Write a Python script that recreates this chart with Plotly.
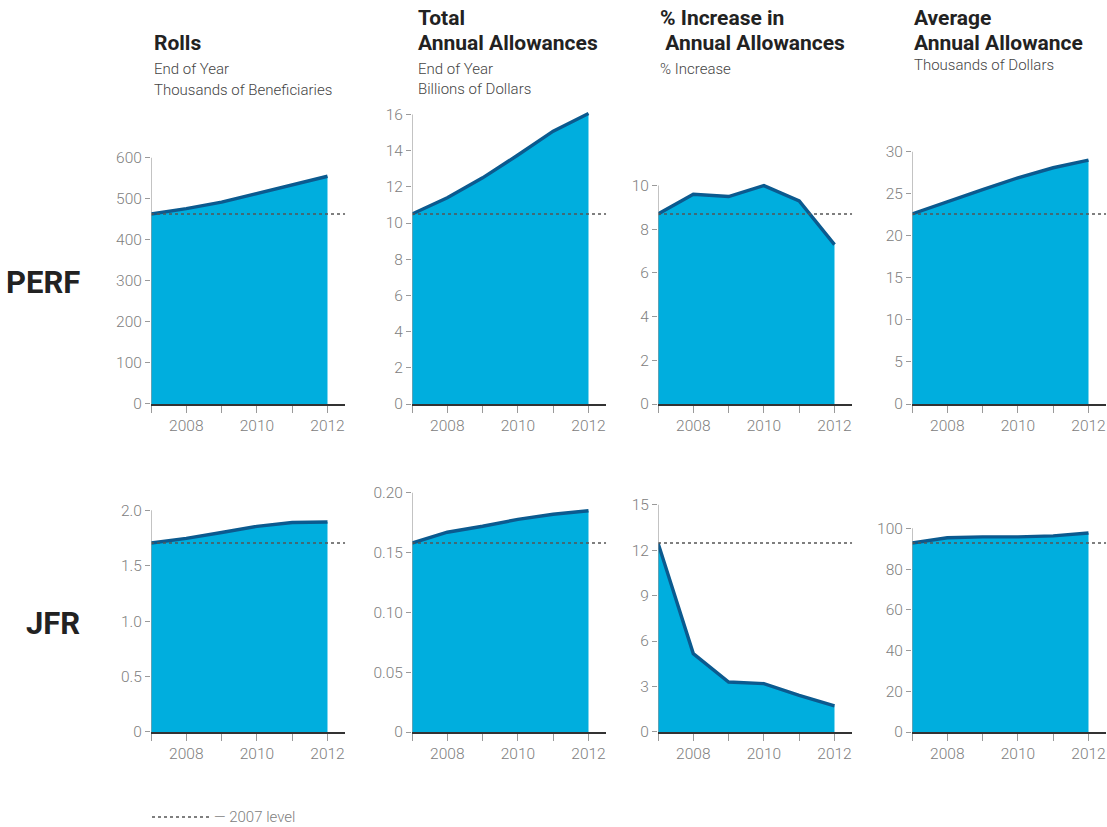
import plotly.graph_objects as go

# ---------------- data ----------------
years = [2007, 2008, 2009, 2010, 2011, 2012]

perf_rolls = [463, 476, 492, 513, 536, 555]
perf_total = [10.5, 11.4, 12.5, 13.76, 15.08, 16.05]
perf_pct = [8.7, 9.6, 9.5, 10.0, 9.3, 7.3]
perf_avg = [22.6, 24.1, 25.5, 26.9, 28.1, 29.0]

jfr_rolls = [1.705, 1.747, 1.80, 1.855, 1.89, 1.894]
jfr_total = [0.158, 0.167, 0.172, 0.1777, 0.182, 0.185]
jfr_pct = [12.47, 5.17, 3.3, 3.19, 2.42, 1.73]
jfr_avg = [92.8, 95.4, 95.8, 95.8, 96.3, 97.7]

row_labels = ["PERF", "JFR"]
col_titles = [["Rolls"], ["Total", "Annual Allowances"], ["% Increase in", " Annual Allowances"], ["Average", "Annual Allowance"]]
col_subtitles = [["End of Year", "Thousands of Beneficiaries"], ["End of Year", "Billions of Dollars"], ["% Increase"], ["Thousands of Dollars"]]

yticks = [
    [[0, 100, 200, 300, 400, 500, 600], ["0", "100", "200", "300", "400", "500", "600"]],
    [[0, 2, 4, 6, 8, 10, 12, 14, 16], ["0", "2", "4", "6", "8", "10", "12", "14", "16"]],
    [[0, 2, 4, 6, 8, 10], ["0", "2", "4", "6", "8", "10"]],
    [[0, 5, 10, 15, 20, 25, 30], ["0", "5", "10", "15", "20", "25", "30"]],
    [[0, 0.5, 1.0, 1.5, 2.0], ["0", "0.5", "1.0", "1.5", "2.0"]],
    [[0, 0.05, 0.10, 0.15, 0.20], ["0", "0.05", "0.10", "0.15", "0.20"]],
    [[0, 3, 6, 9, 12, 15], ["0", "3", "6", "9", "12", "15"]],
    [[0, 20, 40, 60, 80, 100], ["0", "20", "40", "60", "80", "100"]],
]
xtick_text = ["", "2008", "", "2010", "", "2012"]
legend_text = "— 2007 level"

series = [perf_rolls, perf_total, perf_pct, perf_avg, jfr_rolls, jfr_total, jfr_pct, jfr_avg]

# ---------------- layout geometry (pixels) ----------------
W, H = 1107, 827
col_x0 = [151, 412, 658, 912]
px_per_year = 35.3
x_end = 2012.5
row_zero = [404, 732]
row_offset = [190, 189]   # pixel height of the 2007 level above zero

FILL = "#00aede"
LINE = "#0b5a8f"
DOT = "#555555"
AXIS_GRAY = "#9a9a9a"
TICK_COL = "#808080"
FONT = "Roboto, 'Noto Sans', sans-serif"


def px_x(p):
    return p / W


def px_y(p):
    return 1 - p / H


fig = go.Figure()
layout = dict(
    width=W, height=H, autosize=False,
    margin=dict(l=0, r=0, t=0, b=0, pad=0, autoexpand=False),
    paper_bgcolor="white", plot_bgcolor="white",
    showlegend=False,
    font=dict(family=FONT),
)
shapes = []
annotations = []

for i, vals in enumerate(series):
    r, c = divmod(i, 4)
    idx = i + 1
    xa = "x" if idx == 1 else f"x{idx}"
    ya = "y" if idx == 1 else f"y{idx}"
    tv, tt = yticks[i]
    top_tick = tv[-1]
    scale = row_offset[r] / vals[0]          # px per unit
    ymax = max(top_tick, max(vals)) * 1.02
    zero = row_zero[r]
    top_px = zero - ymax * scale
    x0 = col_x0[c]
    x1 = x0 + (x_end - years[0]) * px_per_year

    fig.add_trace(go.Scatter(
        x=years, y=vals, xaxis=xa, yaxis=ya, mode="lines",
        fill="tozeroy", fillcolor=FILL,
        line=dict(color=LINE, width=3.4), hoverinfo="skip"))
    fig.add_trace(go.Scatter(
        x=[years[0], x_end], y=[vals[0], vals[0]], xaxis=xa, yaxis=ya, mode="lines",
        line=dict(color=DOT, width=1.6, dash="dot"), hoverinfo="skip"))

    layout["xaxis" if idx == 1 else f"xaxis{idx}"] = dict(
        domain=[px_x(x0), px_x(x1)], anchor=ya, range=[years[0], x_end],
        showgrid=False, zeroline=False, showline=True, linecolor="#333333", linewidth=1.5,
        ticks="outside", ticklen=7, tickcolor=AXIS_GRAY, tickwidth=1.2,
        tickvals=years, ticktext=xtick_text, automargin=False,
        tickfont=dict(size=15.5, color=TICK_COL, family=FONT, weight=300), fixedrange=True)
    layout["yaxis" if idx == 1 else f"yaxis{idx}"] = dict(
        domain=[px_y(zero), px_y(top_px)], anchor=xa, range=[0, ymax],
        showgrid=False, zeroline=False, showline=False,
        ticks="outside", ticklen=5, tickcolor=AXIS_GRAY, tickwidth=1.2,
        tickvals=tv, ticktext=tt, automargin=False,
        tickfont=dict(size=15.5, color=TICK_COL, family=FONT, weight=300), fixedrange=True)
    # vertical axis line from 0 to top tick
    shapes.append(dict(type="line", xref=xa, yref=ya, x0=years[0], x1=years[0], y0=0, y1=top_tick,
                       line=dict(color=AXIS_GRAY, width=1.2), layer="above"))

# column titles
title_rows = [[43], [18, 43], [18, 43], [18, 43]]
title_x = [[152], [416, 416], [658, 658], [912, 912]]
sub_rows = [[69, 90], [69, 89], [69], [65]]
for c in range(4):
    for j, txt in enumerate(col_titles[c]):
        annotations.append(dict(
            text=f"<b>{txt}</b>", xref="paper", yref="paper",
            x=px_x(title_x[c][j]), y=px_y(title_rows[c][j]),
            xanchor="left", yanchor="middle", showarrow=False,
            font=dict(size=21, color="#222222", family=FONT)))
    for j, txt in enumerate(col_subtitles[c]):
        annotations.append(dict(
            text=txt, xref="paper", yref="paper",
            x=px_x(title_x[c][0]), y=px_y(sub_rows[c][j]),
            xanchor="left", yanchor="middle", showarrow=False,
            font=dict(size=15, color="#444444", family=FONT, weight=300)))

# row labels
for r, lab in enumerate(row_labels):
    annotations.append(dict(
        text=f"<b>{lab}</b>", xref="paper", yref="paper",
        x=px_x(82), y=px_y([282, 623][r]),
        xanchor="right", yanchor="middle", showarrow=False,
        font=dict(size=31, color="#222222", family=FONT)))

# legend
shapes.append(dict(type="line", xref="paper", yref="paper",
                   x0=px_x(152), x1=px_x(209), y0=px_y(817), y1=px_y(817),
                   line=dict(color=DOT, width=1.6, dash="dot")))
annotations.append(dict(
    text=legend_text, xref="paper", yref="paper",
    x=px_x(212), y=px_y(817), xanchor="left", yanchor="middle", showarrow=False,
    font=dict(size=15, color="#808080", family=FONT, weight=300)))

layout["shapes"] = shapes
layout["annotations"] = annotations
fig.update_layout(**layout)

fig.write_html(
    "out.html",
    config={"displayModeBar": False},
    post_script="document.body.style.margin='0px';document.body.style.overflow='hidden';",
)
